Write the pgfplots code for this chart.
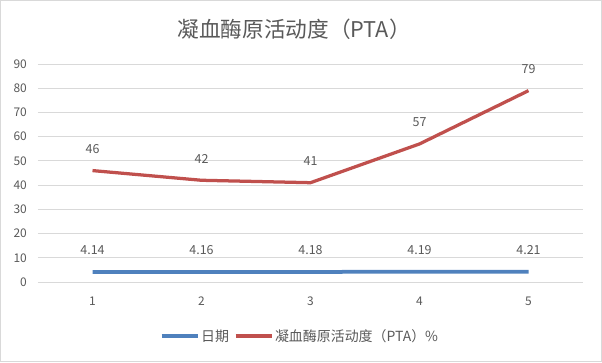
\documentclass[border=0pt]{standalone}
\usepackage{pgfplots}
\pgfplotsset{compat=1.18}
\usepackage{fontspec}
\setmainfont{Noto Sans CJK SC}
\definecolor{sblue}{HTML}{4F81BD}
\definecolor{sred}{HTML}{C0504D}
\definecolor{gridc}{HTML}{D9D9D9}
\definecolor{txt}{HTML}{595959}
\begin{document}
\begin{tikzpicture}[x=1bp,y=1bp]
\useasboundingbox (-38,-80) rectangle (564,282);
\draw[gridc, line width=1bp] (-37.5,-79.5) rectangle (563.5,281.5);
\node[text=txt, font=\fontsize{21.75}{26}\selectfont, inner sep=0pt] at (256,253) {凝血酶原活动度（PTA）};
\begin{axis}[
  at={(0,0)}, anchor=south west,
  scale only axis, width=545bp, height=218bp,
  xmin=0.5, xmax=5.5, ymin=0, ymax=90,
  xtick={1,2,3,4,5}, ytick={0,10,...,90},
  axis line style={draw=none},
  major tick length=0pt,
  ymajorgrids, grid style={gridc, line width=1bp},
  tick label style={text=txt, font=\fontsize{12}{14}\selectfont},
  /pgf/number format/assume math mode=true,
  yticklabel style={anchor=east, inner sep=0pt, xshift=-11bp},
  xticklabel style={anchor=center, inner sep=0pt, yshift=-19bp},
  nodes near coords, point meta=explicit symbolic,
  every node near coord/.append style={anchor=center, inner sep=0pt, yshift=21.5bp, text=txt, font=\fontsize{12.5}{14}\selectfont},
  legend columns=2,
  legend style={draw=none, fill=none, at={(0.48,-0.248)}, anchor=center,
    font=\fontsize{14}{16}\selectfont, text=txt,
    /tikz/every even column/.append style={column sep=3bp},
    nodes={inner sep=1.5bp}},
  legend image code/.code={\draw[#1, line width=4bp] (0bp,0bp) -- (36bp,0bp);},
  clip=false,
]
\addplot[sblue, line width=3.75bp, mark=none] coordinates {
 (1,4.14) [4.14]
 (2,4.16) [4.16]
 (3,4.18) [4.18]
 (4,4.19) [4.19]
 (5,4.21) [4.21]
};
\addlegendentry{日期}
\addplot[sred, line width=3.25bp, mark=none, line join=round] coordinates {
 (1,46) [46]
 (2,42) [42]
 (3,41) [41]
 (4,57) [57]
 (5,79) [79]
};
\addlegendentry{凝血酶原活动度（PTA）\%}
\end{axis}
\end{tikzpicture}
\end{document}
